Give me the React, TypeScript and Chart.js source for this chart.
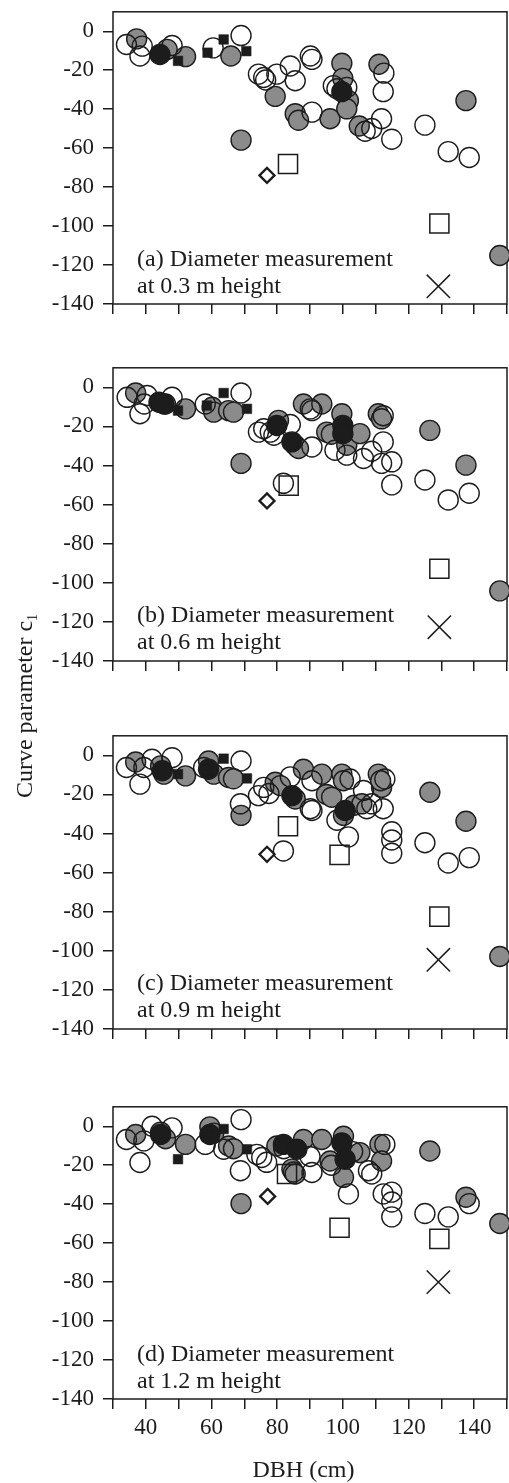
import React, { useEffect, useRef } from 'react';
import { Chart, registerables } from 'chart.js';

Chart.register(...registerables);

type P = [number, number];

// ---- axes ----
const xTickValues = [30, 40, 50, 60, 70, 80, 90, 100, 110, 120, 130, 140, 150];
const xLabelValues = [40, 60, 80, 100, 120, 140];
const yTickValues = [0, -20, -40, -60, -80, -100, -120, -140];
const X_MIN = 30;
const X_MAX = 150;
const Y_MIN = -140;
const Y_MAX = 10;

// ---- panel (a): 0.3 m ----
const aOpen: P[] = [[34.1, -6.8], [38.2, -12.7], [38.9, -7.6], [48.0, -7.3], [60.5, -8.5], [69.0, -2.2], [74.3, -22.0], [75.9, -23.7], [76.5, -25.0], [79.9, -22.0], [84.0, -17.8], [85.5, -25.4], [90.1, -12.7], [90.6, -14.4], [90.6, -41.5], [97.1, -27.9], [98.2, -29.5], [101.2, -28.8], [112.5, -21.5], [112.3, -31.0], [111.8, -44.9], [106.8, -51.3], [108.8, -49.9], [114.9, -55.4], [125.0, -48.2], [132.1, -61.8], [138.5, -64.8]];
const aGray: P[] = [[37.2, -3.9], [46.5, -9.3], [52.1, -13.0], [65.9, -12.7], [69.0, -55.9], [79.4, -33.4], [85.5, -42.3], [86.5, -45.7], [96.1, -44.9], [99.7, -16.4], [100.0, -24.2], [101.7, -35.6], [101.2, -39.8], [105.0, -48.6], [111.0, -16.9], [137.5, -35.6], [147.8, -115.1]];
const aBlack: P[] = [[44.3, -11.9], [99.7, -31.0]];
const aBlackSq: P[] = [[49.8, -15.2], [58.8, -11.0], [63.7, -4.2], [70.6, -10.2]];
const aDiamond: P[] = [[76.9, -74.0]];
const aSquare: P[] = [[83.3, -68.1], [129.4, -98.7]];
const aCross: P[] = [[129.1, -130.9]];

// ---- panel (b): 0.6 m ----
const bOpen: P[] = [[34.3, -5.1], [38.2, -13.5], [40.4, -4.2], [39.5, -8.5], [48.0, -5.1], [58.1, -8.5], [69.0, -2.9], [74.3, -22.9], [75.9, -21.2], [77.9, -22.9], [79.0, -24.5], [84.0, -19.0], [81.9, -49.1], [90.6, -30.5], [90.1, -11.0], [90.6, -11.9], [97.6, -32.2], [101.2, -34.7], [106.3, -36.4], [108.8, -32.7], [112.3, -27.9], [111.8, -38.9], [114.9, -38.1], [114.9, -49.9], [112.3, -14.5], [125.0, -47.4], [132.1, -57.6], [138.5, -54.2]];
const bGray: P[] = [[36.9, -2.9], [46.0, -8.5], [52.1, -11.0], [60.2, -10.2], [60.7, -12.7], [65.2, -11.9], [66.7, -12.7], [69.0, -38.9], [80.4, -16.9], [85.5, -29.6], [86.5, -31.3], [88.0, -8.5], [93.6, -8.5], [95.1, -22.9], [96.5, -24.0], [99.7, -13.5], [101.2, -29.6], [105.2, -23.7], [110.8, -13.5], [111.8, -16.1], [126.5, -22.0], [137.5, -39.8], [147.8, -104.1]];
const bBlack: P[] = [[44.0, -7.6], [45.5, -8.5], [79.9, -19.5], [84.5, -27.9], [100.0, -19.5], [100.0, -23.7]];
const bBlackSq: P[] = [[49.8, -11.9], [58.6, -9.3], [63.7, -2.9], [70.8, -11.0]];
const bDiamond: P[] = [[76.9, -58.1]];
const bSquare: P[] = [[83.5, -50.3], [129.4, -92.8]];
const bCross: P[] = [[129.4, -122.7]];

// ---- panel (c): 0.9 m ----
const cOpen: P[] = [[34.1, -6.2], [38.2, -14.7], [39.4, -6.2], [41.9, -2.0], [48.0, -1.2], [57.6, -6.2], [69.0, -2.9], [68.8, -24.8], [74.3, -20.6], [75.9, -16.4], [77.5, -19.5], [81.9, -48.9], [84.0, -11.0], [90.1, -27.3], [90.6, -13.0], [90.6, -28.2], [98.2, -33.2], [101.7, -41.7], [106.3, -18.0], [107.3, -27.3], [108.8, -24.8], [112.3, -27.3], [112.8, -12.1], [102.2, -12.1], [114.9, -39.1], [114.9, -43.3], [114.9, -50.1], [125.0, -44.7], [132.1, -55.1], [138.5, -52.3]];
const cGray: P[] = [[36.9, -3.4], [44.5, -5.4], [45.5, -9.6], [52.1, -10.5], [59.1, -2.9], [60.7, -9.6], [65.2, -11.3], [66.7, -12.0], [69.0, -30.7], [79.4, -13.8], [81.0, -15.5], [85.5, -22.3], [88.0, -7.1], [93.6, -9.6], [95.0, -20.0], [96.6, -21.4], [99.7, -9.6], [100.2, -13.0], [100.2, -30.7], [103.5, -25.5], [105.8, -24.8], [110.8, -9.6], [111.8, -16.4], [111.5, -13.0], [126.5, -18.9], [137.5, -33.7], [147.8, -102.9]];
const cBlack: P[] = [[45.0, -7.9], [59.1, -7.1], [84.5, -20.6], [100.7, -28.2]];
const cBlackSq: P[] = [[49.8, -9.6], [58.8, -7.5], [63.7, -1.7], [70.8, -11.8]];
const cDiamond: P[] = [[76.9, -50.6]];
const cSquare: P[] = [[83.3, -36.3], [99.0, -50.9], [129.4, -82.5]];
const cCross: P[] = [[129.1, -104.6]];

// ---- panel (d): 1.2 m ----
const dOpen: P[] = [[34.1, -6.8], [38.2, -18.6], [39.4, -7.5], [41.9, 0.0], [48.0, -0.8], [58.1, -9.3], [63.7, -11.8], [69.0, 3.4], [68.8, -22.8], [73.8, -14.4], [75.3, -16.0], [76.8, -18.5], [82.0, -11.5], [85.0, -23.5], [90.0, -15.5], [90.6, -23.7], [96.5, -20.0], [101.7, -34.7], [103.0, -13.0], [107.8, -22.8], [108.8, -24.5], [112.8, -9.3], [112.3, -34.7], [114.9, -33.8], [114.9, -38.9], [114.9, -46.5], [125.0, -44.8], [132.1, -46.5], [138.5, -39.7]];
const dGray: P[] = [[36.9, -4.2], [44.5, -3.0], [46.0, -6.4], [52.1, -9.3], [59.5, -0.3], [60.7, -3.5], [65.2, -10.1], [66.7, -11.5], [69.0, -39.7], [79.9, -10.1], [84.5, -22.0], [85.5, -24.5], [88.0, -6.8], [93.6, -6.8], [96.1, -17.8], [100.2, -5.1], [100.2, -26.2], [105.2, -13.5], [111.3, -9.3], [111.8, -17.8], [126.5, -12.7], [137.5, -36.4], [147.8, -49.9]];
const dBlack: P[] = [[44.5, -4.2], [59.5, -4.2], [81.9, -9.3], [86.0, -11.8], [99.7, -8.5], [100.7, -16.9]];
const dBlackSq: P[] = [[49.8, -16.9], [58.6, -5.5], [63.7, -1.4], [70.8, -11.8]];
const dDiamond: P[] = [[77.1, -36.0]];
const dSquare: P[] = [[83.0, -24.5], [99.0, -52.1], [129.4, -57.8]];
const dCross: P[] = [[129.1, -80.0]];

// ---- styling / layout ----
const SERIF = "'Liberation Serif', 'Times New Roman', Times, serif";
const INK = '#1c1c1c';
const GRAY = '#8b8b8b';
const CANVAS_W = 530;
const AREA_LEFT = 113;
const AREA_RIGHT = 507;
const PAD_TOP = 20;

interface PanelDef {
  top: number;
  height: number;
  bottomSpace: number;
  showX: boolean;
  caption: [string, string];
  open: P[]; gray: P[]; black: P[]; blackSq: P[]; diamond: P[]; square: P[]; cross: P[];
}

const panels: PanelDef[] = [
  { top: 9, height: 295, bottomSpace: 30, showX: false, caption: ['(a) Diameter measurement', 'at 0.3 m height'], open: aOpen, gray: aGray, black: aBlack, blackSq: aBlackSq, diamond: aDiamond, square: aSquare, cross: aCross },
  { top: 365, height: 296, bottomSpace: 30, showX: false, caption: ['(b) Diameter measurement', 'at 0.6 m height'], open: bOpen, gray: bGray, black: bBlack, blackSq: bBlackSq, diamond: bDiamond, square: bSquare, cross: bCross },
  { top: 733, height: 296, bottomSpace: 30, showX: false, caption: ['(c) Diameter measurement', 'at 0.9 m height'], open: cOpen, gray: cGray, black: cBlack, blackSq: cBlackSq, diamond: cDiamond, square: cSquare, cross: cCross },
  { top: 1104, height: 295, bottomSpace: 84, showX: true, caption: ['(d) Diameter measurement', 'at 1.2 m height'], open: dOpen, gray: dGray, black: dBlack, blackSq: dBlackSq, diamond: dDiamond, square: dSquare, cross: dCross },
];

const toXY = (arr: P[]) => arr.map(([x, y]) => ({ x, y }));

function Panel({ def }: { def: PanelDef }) {
  const ref = useRef<HTMLCanvasElement>(null);
  const canvasH = PAD_TOP + def.height + def.bottomSpace;

  useEffect(() => {
    const boxPlugin = {
      id: 'box',
      beforeDatasetsDraw(chart: any) {
        const { ctx, chartArea } = chart;
        ctx.save();
        ctx.strokeStyle = INK;
        ctx.lineWidth = 1.5;
        ctx.strokeRect(chartArea.left, chartArea.top, chartArea.right - chartArea.left, chartArea.bottom - chartArea.top);
        ctx.restore();
      },
    };
    const captionPlugin = {
      id: 'caption',
      afterDraw(chart: any) {
        const { ctx, chartArea } = chart;
        ctx.save();
        ctx.fillStyle = INK;
        ctx.font = `24px ${SERIF}`;
        ctx.textAlign = 'left';
        ctx.textBaseline = 'alphabetic';
        ctx.fillText(def.caption[0], chartArea.left + 24, chartArea.top + 254);
        ctx.fillText(def.caption[1], chartArea.left + 24, chartArea.top + 281);
        if (def.showX) {
          ctx.textAlign = 'center';
          ctx.fillText('DBH (cm)', 303.5, chartArea.bottom + 78);
        }
        ctx.restore();
      },
    };

    const circle = (data: P[], fill: string, order: number) => ({
      data: toXY(data),
      pointStyle: 'circle',
      pointRadius: 10,
      pointBackgroundColor: fill,
      pointBorderColor: INK,
      pointBorderWidth: 1.4,
      order,
      clip: false,
    });

    const chart = new Chart(ref.current as HTMLCanvasElement, {
      type: 'scatter',
      data: {
        datasets: [
          circle(def.gray, GRAY, 7),
          circle(def.open, 'rgba(255,255,255,0)', 6),
          circle(def.black, INK, 5),
          { data: toXY(def.blackSq), pointStyle: 'rect', pointRadius: 6.8, pointBackgroundColor: INK, pointBorderColor: INK, pointBorderWidth: 0.5, order: 4, clip: false },
          { data: toXY(def.square), pointStyle: 'rect', pointRadius: 13.5, pointBackgroundColor: 'rgba(255,255,255,0)', pointBorderColor: INK, pointBorderWidth: 1.5, order: 3, clip: false },
          { data: toXY(def.diamond), pointStyle: 'rectRot', pointRadius: 7.5, pointBackgroundColor: '#ffffff', pointBorderColor: INK, pointBorderWidth: 2.3, order: 2, clip: false },
          { data: toXY(def.cross), pointStyle: 'crossRot', pointRadius: 16.5, pointBorderColor: INK, pointBorderWidth: 1.5, order: 1, clip: false },
        ] as any,
      },
      options: {
        responsive: false,
        animation: false,
        events: [],
        layout: { padding: { top: PAD_TOP, right: CANVAS_W - AREA_RIGHT, left: 0, bottom: 0 } },
        plugins: { legend: { display: false }, tooltip: { enabled: false }, title: { display: false } },
        scales: {
          x: {
            type: 'linear',
            min: X_MIN,
            max: X_MAX,
            afterBuildTicks: (s: any) => { s.ticks = xTickValues.map((v) => ({ value: v })); },
            afterFit: (s: any) => { s.height = def.bottomSpace; },
            border: { display: false },
            grid: { drawOnChartArea: false, drawTicks: true, tickLength: 10, color: INK, lineWidth: 1.5 },
            ticks: {
              display: def.showX,
              autoSkip: false,
              maxRotation: 0,
              padding: 5,
              color: INK,
              font: { family: SERIF, size: 23 },
              callback: (v: any) => (xLabelValues.includes(Number(v)) ? String(v) : ''),
            },
          },
          y: {
            type: 'linear',
            min: Y_MIN,
            max: Y_MAX,
            afterBuildTicks: (s: any) => { s.ticks = yTickValues.map((v) => ({ value: v })); },
            afterFit: (s: any) => { s.width = AREA_LEFT; },
            border: { display: false },
            grid: { drawOnChartArea: false, drawTicks: true, tickLength: 10, color: INK, lineWidth: 1.5 },
            ticks: {
              autoSkip: false,
              padding: 9,
              color: INK,
              font: { family: SERIF, size: 23 },
              callback: (v: any) => String(v),
            },
          },
        },
      } as any,
      plugins: [boxPlugin, captionPlugin],
    });
    return () => chart.destroy();
  }, [def]);

  return (
    <canvas
      ref={ref}
      width={CANVAS_W}
      height={canvasH}
      style={{ position: 'absolute', left: 0, top: def.top - PAD_TOP, width: CANVAS_W, height: canvasH, display: 'block' }}
    />
  );
}

export default function App() {
  return (
    <div style={{ position: 'absolute', left: 0, top: 0, width: 509, height: 1483, overflow: 'hidden', background: '#ffffff' }}>
      {panels.map((p, i) => (
        <Panel key={i} def={p} />
      ))}
      <div
        style={{
          position: 'absolute',
          left: 24 - 150,
          top: 706 - 15,
          width: 300,
          height: 30,
          lineHeight: '30px',
          textAlign: 'center',
          transform: 'rotate(-90deg)',
          fontFamily: SERIF,
          fontSize: 24,
          color: INK,
          whiteSpace: 'nowrap',
        }}
      >
        Curve parameter c<span style={{ fontSize: 14, position: 'relative', top: 5 }}>1</span>
      </div>
    </div>
  );
}
